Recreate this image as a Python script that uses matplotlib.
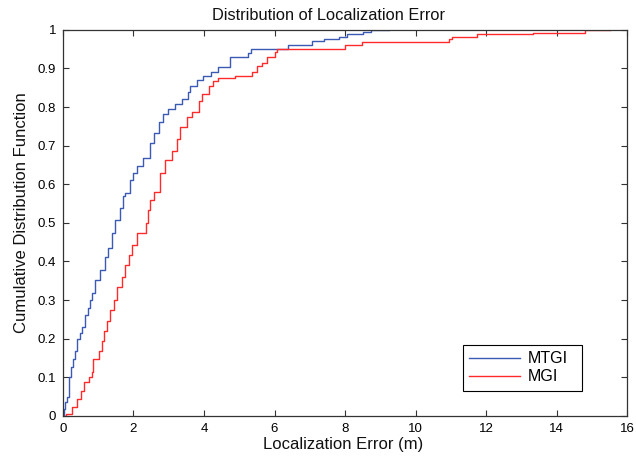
import matplotlib
matplotlib.use("Agg")
import matplotlib.pyplot as plt

# step breakpoints of the empirical CDFs (x = error in m, y = CDF after the step)
mtgi_x = [0, 0.03, 0.07, 0.105, 0.17, 0.22, 0.29, 0.34, 0.41, 0.47,
          0.53, 0.625, 0.70, 0.77, 0.81, 0.91, 1.05, 1.19, 1.29, 1.38,
          1.48, 1.62, 1.71, 1.76, 1.90, 2.00, 2.09, 2.28, 2.47, 2.57,
          2.71, 2.85, 2.99, 3.18, 3.37, 3.56, 3.61, 3.80, 3.98, 4.20,
          4.41, 4.75, 5.26, 5.32, 6.39, 7.07, 7.39, 7.84, 8.06, 8.52,
          8.74, 9.24]
mtgi_y = [0, 0.017, 0.035, 0.048, 0.100, 0.126, 0.148, 0.169, 0.200, 0.215,
          0.230, 0.260, 0.280, 0.300, 0.317, 0.352, 0.378, 0.412, 0.434, 0.473,
          0.508, 0.538, 0.569, 0.577, 0.612, 0.630, 0.647, 0.668, 0.707, 0.734,
          0.760, 0.781, 0.794, 0.807, 0.820, 0.838, 0.855, 0.870, 0.881, 0.890,
          0.903, 0.929, 0.940, 0.951, 0.962, 0.970, 0.976, 0.981, 0.988, 0.994,
          1.000, 1.000]

mgi_x = [0, 0.10, 0.27, 0.40, 0.50, 0.60, 0.75, 0.81, 0.86, 1.03,
         1.10, 1.15, 1.24, 1.34, 1.46, 1.54, 1.67, 1.76, 1.86, 1.95,
         2.09, 2.35, 2.42, 2.47, 2.57, 2.76, 2.90, 3.09, 3.23, 3.32,
         3.51, 3.66, 3.85, 3.95, 4.13, 4.25, 4.41, 4.89, 5.36, 5.50,
         5.65, 5.79, 6.00, 6.07, 8.01, 8.47, 10.95, 11.04, 11.74, 13.34,
         14.80, 15.52]
mgi_y = [0, 0.006, 0.022, 0.043, 0.065, 0.087, 0.100, 0.113, 0.148, 0.169,
         0.195, 0.221, 0.247, 0.273, 0.300, 0.334, 0.360, 0.391, 0.417, 0.443,
         0.473, 0.499, 0.534, 0.560, 0.581, 0.629, 0.664, 0.686, 0.716, 0.747,
         0.775, 0.786, 0.816, 0.835, 0.855, 0.868, 0.875, 0.881, 0.890, 0.907,
         0.915, 0.929, 0.942, 0.951, 0.961, 0.969, 0.977, 0.981, 0.988, 0.993,
         1.000, 1.000]

xticks = list(range(0, 17, 2))
yticks = [0, 0.1, 0.2, 0.3, 0.4, 0.5, 0.6, 0.7, 0.8, 0.9, 1]
yticklabels = ["0", "0.1", "0.2", "0.3", "0.4", "0.5", "0.6", "0.7", "0.8", "0.9", "1"]

plt.rcParams["font.family"] = ["Liberation Sans", "DejaVu Sans"]

fig = plt.figure(figsize=(6.36, 4.59), dpi=100)
ax = fig.add_axes([0.099, 0.094, 0.887, 0.841])

ax.step(mtgi_x, mtgi_y, where="post", color="#3a5ab4", lw=1.0, label="MTGI")
ax.step(mgi_x, mgi_y, where="post", color="#ff2a2a", lw=1.0, label="MGI")

ax.set_xlim(0, 16)
ax.set_ylim(0, 1)
ax.set_xticks(xticks)
ax.set_yticks(yticks)
ax.set_yticklabels(yticklabels)
ax.tick_params(direction="in", top=True, right=True, length=4, width=0.8,
               labelsize=9.5, pad=5, color="#333333")
for s in ax.spines.values():
    s.set_color("#333333")
    s.set_linewidth(0.9)

# MATLAB-style labels (slightly off-centre like the original)
ax.text(0.471, 1.018, "Distribution of Localization Error", transform=ax.transAxes,
        ha="center", va="bottom", fontsize=11.8, color="#111111")
ax.set_xlabel("Localization Error (m)", fontsize=12, color="#111111")
ax.xaxis.set_label_coords(0.496, -0.055)
ax.set_ylabel("Cumulative Distribution Function", fontsize=12, color="#111111")
ax.yaxis.set_label_coords(-0.06, 0.526)

leg = ax.legend(loc="lower left", bbox_to_anchor=(0.709, 0.065, 0.211, 0.119),
                mode="expand", borderaxespad=0, fancybox=False, edgecolor="black",
                fontsize=11.5, handlelength=3.2, handletextpad=0.45, borderpad=0.4,
                labelspacing=0.2, framealpha=1)
leg.get_frame().set_linewidth(0.8)

fig.savefig("out.png", dpi=100)
